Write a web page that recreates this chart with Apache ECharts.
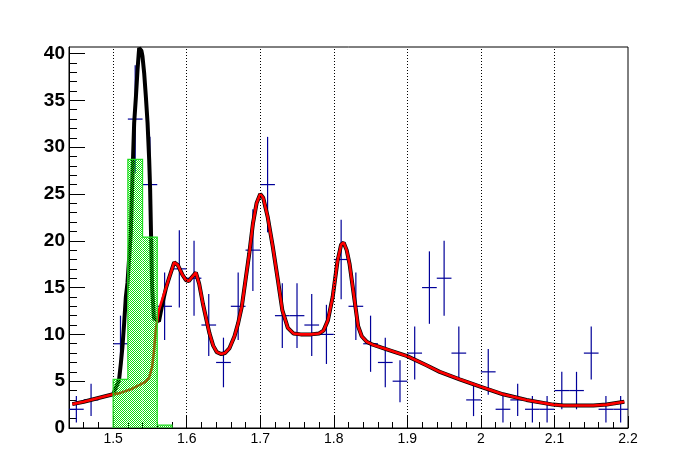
<!DOCTYPE html>
<html><head><meta charset="utf-8">
<script src="https://cdn.jsdelivr.net/npm/echarts@6/dist/echarts.min.js"></script>
<style>html,body{margin:0;padding:0;background:#fff;}#c{width:698px;height:476px;}</style>
</head><body><div id="c"></div>
<script>
// ---- data ----
var XMIN = 1.44, XMAX = 2.2, YMIN = 0, YMAX = 40.7;
var xMajorTicks = [1.5, 1.6, 1.7, 1.8, 1.9, 2.0, 2.1, 2.2];
var xMinorTicks = [1.44,1.46,1.48,1.5,1.52,1.54,1.56,1.58,1.6,1.62,1.64,1.66,1.68,1.7,1.72,1.74,1.76,1.78,1.8,1.82,1.84,1.86,1.88,1.9,1.92,1.94,1.96,1.98,2.0,2.02,2.04,2.06,2.08,2.1,2.12,2.14,2.16,2.18,2.2];
var yMajorTicks = [0, 5, 10, 15, 20, 25, 30, 35, 40];
var yMinorTicks = [0,1,2,3,4,5,6,7,8,9,10,11,12,13,14,15,16,17,18,19,20,21,22,23,24,25,26,27,28,29,30,31,32,33,34,35,36,37,38,39,40];
var gridXs = [1.5, 1.6, 1.7, 1.8, 1.9, 2.0, 2.1];

// data points (bin centres, counts, errors)
var pointX = [1.45,1.47,1.51,1.53,1.55,1.57,1.59,1.61,1.63,1.65,1.67,1.69,1.71,1.73,1.75,1.77,1.79,1.81,1.83,1.85,1.87,1.89,1.91,1.93,1.95,1.97,1.99,2.01,2.03,2.05,2.07,2.09,2.11,2.13,2.15,2.17,2.19];
var pointY = [2,3,9,33,26,13,17,16,11,7,13,19,26,12,12,11,10,18,13,9,7,5,8,15,16,8,3,6,2,3,2,2,4,4,8,2,2];
var pointErr = [1.41,1.73,3.0,5.74,5.10,3.61,4.12,4.0,3.32,2.65,3.61,4.36,5.10,3.46,3.46,3.32,3.16,4.24,3.61,3.0,2.65,2.24,2.83,3.87,4.0,2.83,1.73,2.45,1.41,1.73,1.41,1.41,2.0,2.0,2.83,1.41,1.41];
var binHalfWidth = 0.01;

// hatched histogram
var histLow = [1.50, 1.52, 1.54, 1.56];
var histHigh = [1.52, 1.54, 1.56, 1.58];
var histVal = [5.2, 28.7, 20.4, 0.3];

// red fit curve
var redX = [1.4445,1.46,1.48,1.50,1.508,1.526,1.5445,1.549,1.553,1.5555,1.558,1.562,1.567,1.572,1.576,1.583,1.588,1.594,1.599,1.603,1.607,1.6125,1.617,1.622,1.627,1.631,1.636,1.641,1.647,1.652,1.658,1.665,1.670,1.675,1.680,1.685,1.690,1.695,1.700,1.704,1.710,1.717,1.724,1.730,1.7375,1.745,1.755,1.769,1.780,1.786,1.792,1.7985,1.805,1.810,1.8135,1.8175,1.8215,1.825,1.8285,1.833,1.838,1.845,1.853,1.876,1.899,1.926,1.944,1.971,2.0,2.03,2.062,2.098,2.112,2.153,2.171,2.195];
var redY = [2.55,2.8,3.2,3.6,3.7,4.2,4.95,5.4,6.5,8.2,10.5,12.5,13.8,15.0,16.0,17.7,17.4,16.4,15.8,15.7,16.1,16.6,15.4,13.3,11.5,10.1,8.8,8.1,7.9,8.0,8.5,9.8,11.2,13.0,15.8,18.6,21.8,24.0,25.0,24.6,22.6,19.4,15.8,12.6,10.7,10.1,10.0,10.0,10.1,10.4,11.5,14.0,17.8,19.6,19.8,19.0,17.5,15.5,13.5,10.9,9.8,9.2,8.9,8.3,7.7,6.7,6.0,5.2,4.4,3.6,3.0,2.5,2.4,2.4,2.5,2.8];

// black total-fit peak section (elsewhere follows the red curve)
var blackPeakX = [1.5014,1.508,1.5105,1.5127,1.515,1.5173,1.5195,1.524,1.5263,1.5286,1.531,1.5332,1.5354,1.5366,1.5385,1.5399,1.5422,1.5445,1.5468,1.549,1.5503,1.5515,1.553,1.5555,1.5623,1.567];
var blackPeakY = [3.8,5.1,6.9,8.7,11.2,14.0,15.5,20.8,27.0,32.6,35.4,38.3,40.6,40.8,40.3,39.7,37.9,35.4,32.6,28.7,25.5,20.8,15.0,11.7,11.4,13.3];

// ---- build ----
function zip(a, b) { var r = []; for (var i = 0; i < a.length; i++) r.push([a[i], b[i]]); return r; }
var redData = zip(redX, redY);
var blackData = [];
redData.forEach(function (p) { if (p[0] <= 1.50) blackData.push(p); });
blackData = blackData.concat(zip(blackPeakX, blackPeakY));
redData.forEach(function (p) { if (p[0] > 1.568) blackData.push(p); });

var pointData = [];
for (var i = 0; i < pointX.length; i++) pointData.push([pointX[i], pointY[i], pointErr[i]]);

var histData = [];
for (var j = 0; j < histLow.length; j++) histData.push([histLow[j], histHigh[j], histVal[j]]);

// checker pattern
var pc = document.createElement('canvas');
pc.width = 2; pc.height = 2;
var pctx = pc.getContext('2d');
pctx.fillStyle = '#11dd11';
pctx.fillRect(0, 0, 1, 1);
pctx.fillRect(1, 1, 1, 1);

var chart = echarts.init(document.getElementById('c'), null, { renderer: 'canvas' });
var FONT = 'Liberation Sans, Arial, Helvetica, sans-serif';

function xAxisBase(extra) {
  var a = { type: 'value', min: XMIN, max: XMAX, position: 'bottom', splitLine: { show: false },
    axisLine: { show: false, onZero: false }, axisLabel: { show: false }, axisTick: { show: false } };
  for (var k in extra) a[k] = extra[k];
  return a;
}
function yAxisBase(extra) {
  var a = { type: 'value', min: YMIN, max: YMAX, position: 'left', splitLine: { show: false },
    axisLine: { show: false, onZero: false }, axisLabel: { show: false }, axisTick: { show: false } };
  for (var k in extra) a[k] = extra[k];
  return a;
}

var option = {
  animation: false,
  backgroundColor: '#ffffff',
  grid: { left: 69, right: 70, top: 47, bottom: 48, show: true, borderColor: '#000', borderWidth: 1, backgroundColor: 'transparent', containLabel: false, outerBoundsMode: 'none' },
  xAxis: [
    xAxisBase({
      axisLine: { show: true, onZero: false, lineStyle: { color: '#000', width: 1 } },
      axisTick: { show: true, inside: true, length: 12, customValues: xMajorTicks, lineStyle: { color: '#000', width: 1 } },
      axisLabel: { show: true, customValues: xMajorTicks, color: '#000', fontSize: 14, fontFamily: FONT, margin: 4,
        formatter: function (v) { return String(Math.round(v * 10) / 10); } }
    }),
    xAxisBase({
      axisTick: { show: true, inside: true, length: 6, customValues: xMinorTicks, lineStyle: { color: '#000', width: 1 } }
    })
  ],
  yAxis: [
    yAxisBase({
      axisLine: { show: true, onZero: false, lineStyle: { color: '#000', width: 1 } },
      axisTick: { show: true, inside: true, length: 16, customValues: yMajorTicks, lineStyle: { color: '#000', width: 1 } },
      axisLabel: { show: true, customValues: yMajorTicks, color: '#000', fontSize: 19, fontWeight: 'bold', fontFamily: FONT, margin: 4 }
    }),
    yAxisBase({
      axisTick: { show: true, inside: true, length: 8, customValues: yMinorTicks, lineStyle: { color: '#000', width: 1 } }
    })
  ],
  series: [
    {
      type: 'line', xAxisIndex: 0, yAxisIndex: 0, data: [], symbol: 'none', silent: true, z: 1,
      markLine: { silent: true, symbol: ['none', 'none'], label: { show: false },
        lineStyle: { color: '#000', width: 1, type: [1, 2] },
        data: gridXs.map(function (x) { return { xAxis: x }; }) }
    },
    {
      type: 'custom', xAxisIndex: 0, yAxisIndex: 0, data: pointData, z: 2, silent: true, clip: true,
      renderItem: function (params, api) {
        var x = api.value(0), y = api.value(1), e = api.value(2);
        var c = api.coord([x, y]);
        var l = api.coord([x - binHalfWidth, y]);
        var r = api.coord([x + binHalfWidth, y]);
        var t = api.coord([x, y + e]);
        var b = api.coord([x, y - e]);
        var st = { stroke: '#000099', lineWidth: 1.2, fill: null };
        return { type: 'group', children: [
          { type: 'line', shape: { x1: l[0], y1: c[1], x2: r[0], y2: c[1] }, style: st },
          { type: 'line', shape: { x1: c[0], y1: t[1], x2: c[0], y2: b[1] }, style: st }
        ] };
      }
    },
    {
      type: 'line', xAxisIndex: 0, yAxisIndex: 0, data: blackData, symbol: 'none', z: 3, silent: true,
      lineStyle: { color: '#000', width: 4 }
    },
    {
      type: 'line', xAxisIndex: 0, yAxisIndex: 0, data: redData, symbol: 'none', z: 4, silent: true,
      lineStyle: { color: '#ff0000', width: 2.6 }
    },
    {
      type: 'custom', xAxisIndex: 0, yAxisIndex: 0, data: [0], z: 5, silent: true,
      renderItem: function (params, api) {
        var children = [];
        var pts = [];
        for (var k = 0; k < histData.length; k++) {
          var lo = histData[k][0], hi = histData[k][1], v = histData[k][2];
          var p0 = api.coord([lo, v]), p1 = api.coord([hi, 0]);
          children.push({ type: 'rect', shape: { x: p0[0], y: p0[1], width: p1[0] - p0[0], height: p1[1] - p0[1] },
            style: { fill: { image: pc, repeat: 'repeat' }, stroke: null } });
          if (k === 0) pts.push(api.coord([lo, 0]));
          pts.push(api.coord([lo, v]));
          pts.push(api.coord([hi, v]));
        }
        pts.push(api.coord([histData[histData.length - 1][1], 0]));
        children.push({ type: 'polyline', shape: { points: pts }, style: { stroke: '#22dd22', lineWidth: 1.2, fill: null } });
        return { type: 'group', children: children };
      }
    }
  ]
};
chart.setOption(option);
</script>
</body></html>
